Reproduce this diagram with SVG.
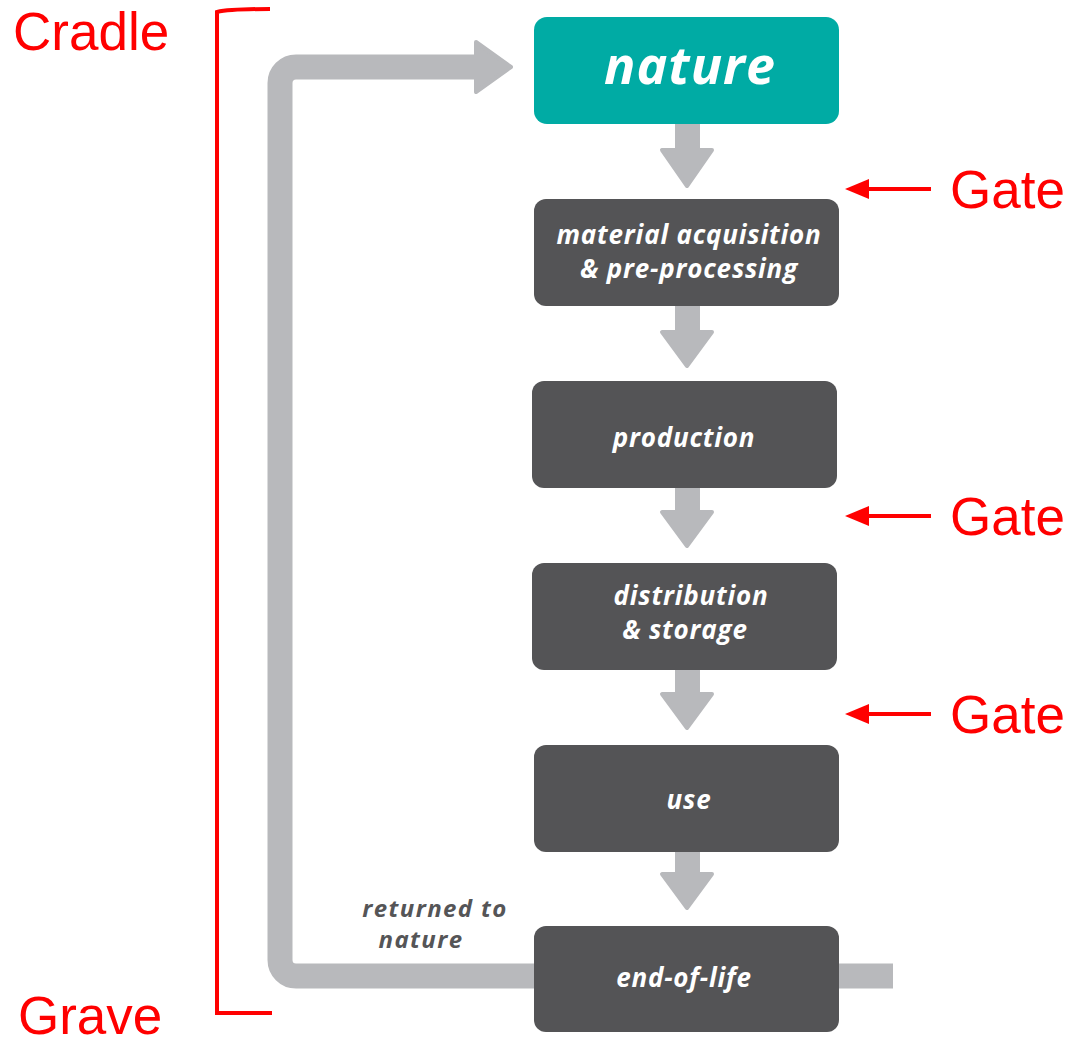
<svg xmlns="http://www.w3.org/2000/svg" width="1073" height="1044" viewBox="0 0 1073 1044">
<style>
.box{fill:#545456}
.nat{fill:#00ABA4}
.lbl{font-family:"Open Sans","DejaVu Sans",sans-serif;font-weight:bold;font-style:italic;fill:#ffffff;font-size:26px;letter-spacing:0.8px;text-anchor:middle}
.ret{font-family:"Open Sans","DejaVu Sans",sans-serif;font-weight:bold;font-style:italic;fill:#555557;font-size:24px;letter-spacing:1.4px;text-anchor:middle}
.red{font-family:"Liberation Sans",Arial,sans-serif;fill:#ff0000;font-size:53px}
.flow{fill:#B8B9BC;stroke:#B8B9BC;stroke-width:4;stroke-linejoin:round}
.redl{stroke:#ff0000;stroke-width:4;fill:none}
</style>
<defs>
<marker id="rh" markerWidth="6" markerHeight="5" refX="1" refY="2.5" orient="auto" markerUnits="strokeWidth">
<path d="M0,2.5 L6,0 L6,5 Z" fill="#ff0000" transform="rotate(180 3 2.5)"/>
</marker>
</defs>
<g id="connectors">
<path d="M893,976 H296 A16,16 0 0 1 280,960 V83 A16,16 0 0 1 296,67 H478" fill="none" stroke="#B8B9BC" stroke-width="25"/>
<path class="flow" d="M476,42 L511,67 L476,92 Z"/>
<rect x="675" y="120" width="25" height="32" fill="#B8B9BC"/>
<path class="flow" d="M662,150 L712,150 L687,186 Z"/>
<rect x="675" y="302" width="25" height="32" fill="#B8B9BC"/>
<path class="flow" d="M662,332 L712,332 L687,366 Z"/>
<rect x="675" y="484" width="25" height="30" fill="#B8B9BC"/>
<path class="flow" d="M662,512 L712,512 L687,546 Z"/>
<rect x="675" y="666" width="25" height="30" fill="#B8B9BC"/>
<path class="flow" d="M662,694 L712,694 L687,728 Z"/>
<rect x="675" y="848" width="25" height="28" fill="#B8B9BC"/>
<path class="flow" d="M662,874 L712,874 L687,908 Z"/>
</g>
<g id="nature"><rect class="nat" x="534" y="17" width="305" height="107" rx="13"/><text class="lbl" x="690" y="84" style="font-size:52px;letter-spacing:1px">nature</text></g>
<g id="material"><rect class="box" x="534" y="199" width="305" height="107" rx="12"/><text class="lbl" x="689" y="244">material acquisition</text><text class="lbl" x="689" y="278">&amp; pre-processing</text></g>
<g id="production"><rect class="box" x="532" y="381" width="305" height="107" rx="12"/><text class="lbl" x="684" y="447">production</text></g>
<g id="distribution"><rect class="box" x="532" y="563" width="305" height="107" rx="12"/><text class="lbl" x="691" y="605">distribution</text><text class="lbl" x="685" y="639">&amp; storage</text></g>
<g id="use"><rect class="box" x="534" y="745" width="305" height="107" rx="12"/><text class="lbl" x="689" y="809">use</text></g>
<g id="end-of-life"><rect class="box" x="534" y="926" width="305" height="106" rx="12"/><text class="lbl" x="684" y="987">end-of-life</text></g>
<g id="returned-label"><text class="ret" x="435" y="917">returned to</text><text class="ret" x="421" y="948">nature</text></g>
<g id="annotations">
<path class="redl" d="M270,9 Q230,9 217,12 V1013 H272"/>
<text class="red" x="13" y="50">Cradle</text>
<text class="red" x="18" y="1034">Grave</text>
<line class="redl" x1="931" y1="189" x2="865" y2="189" marker-end="url(#rh)"/>
<text class="red" x="950" y="208">Gate</text>
<line class="redl" x1="931" y1="516" x2="865" y2="516" marker-end="url(#rh)"/>
<text class="red" x="950" y="535">Gate</text>
<line class="redl" x1="931" y1="714" x2="865" y2="714" marker-end="url(#rh)"/>
<text class="red" x="950" y="733">Gate</text>
</g>
</svg>
